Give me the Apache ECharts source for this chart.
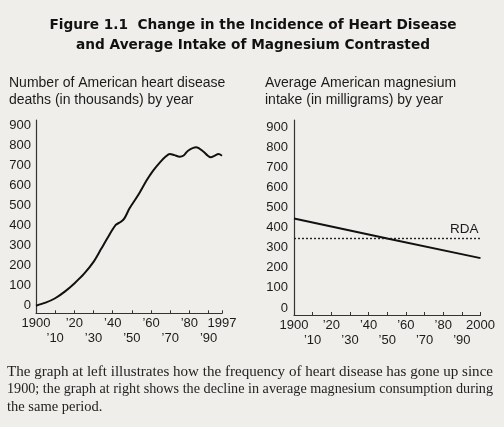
<!DOCTYPE html>
<html><head><meta charset="utf-8">
<script src="https://cdn.jsdelivr.net/npm/echarts@6/dist/echarts.min.js"></script>
<style>html,body{margin:0;padding:0;background:#efeeea}#c{width:504px;height:427px}</style>
</head><body><div id="c"></div>
<script>
// Left chart: heart disease deaths (thousands)
const deathYears  = [1900,1905,1910,1915,1920,1925,1930,1934,1937.2,1941.6,1944.3,1946.1,1948.8,1953.3,1957.8,1961,1965,1967.5,1969.8,1972.2,1974.9,1977,1979.3,1983.5,1987.4,1989.5,1991.2,1993,1995.2,1997];
const deathValues = [0,15,37,70,111,158,218,283,336,402,418,435,485,551,626,672,718,742,756,750,742,748,772,789,767,748,739,746,755,747];
// Right chart: magnesium intake (mg)
const intakeYears  = [1900,1950,2000];
const intakeValues = [445,346,248];
const rdaValue = 345;
// Tick labels (upper row / lower row)
const leftTickYears   = [1900,1910,1920,1930,1940,1950,1960,1970,1980,1990,1997];
const leftUpperYears  = [1900,1920,1940,1960,1980,1997];
const leftLowerYears  = [1910,1930,1950,1970,1990];
const rightTickYears  = [1900,1910,1920,1930,1940,1950,1960,1970,1980,1990,2000];
const rightUpperYears = [1900,1920,1940,1960,1980,2000];
const rightLowerYears = [1910,1930,1950,1970,1990];
const yTickValues = [0,100,200,300,400,500,600,700,800,900];
const captionLines = [
  'The graph at left illustrates how the frequency of heart disease has gone up since',
  '1900; the graph at right shows the decline in average magnesium consumption during',
  'the same period.'
];

const FONT = '"Liberation Sans", Arial, sans-serif';
const SERIF = '"Liberation Serif", "DejaVu Serif", serif';
const INK = '#1b1b1b';

function yearLabel(v){
  if (v===1900 || v===1997 || v===2000) return String(v);
  return '\u2019' + String(v).slice(2);
}
function xAxisMain(idx, max, ticks, labels){
  return {
    type:'value', gridIndex:idx, min:1900, max:max, position:'bottom',
    axisLine:{show:true, onZero:false, lineStyle:{color:'#333', width:1.2}},
    axisTick:{show:true, inside:true, length:3, customValues:ticks, lineStyle:{color:'#333'}},
    axisLabel:{customValues:labels, formatter:yearLabel, margin:4,
      showMinLabel:true, showMaxLabel:true,
      fontFamily:FONT, fontSize:13, color:INK},
    splitLine:{show:false}
  };
}
function xAxisLower(idx, max, labels){
  return {
    type:'value', gridIndex:idx, min:1900, max:max, position:'bottom', offset:15,
    axisLine:{show:false, onZero:false},
    axisTick:{show:false},
    axisLabel:{customValues:labels, formatter:yearLabel, margin:4,
      fontFamily:FONT, fontSize:13, color:INK},
    splitLine:{show:false}
  };
}
function yAxis(idx, min, max, margin){
  return {
    type:'value', gridIndex:idx, min:min, max:max,
    axisLine:{show:true, lineStyle:{color:'#333', width:1.2}},
    axisTick:{show:false},
    axisLabel:{customValues:yTickValues, margin:margin, fontFamily:FONT, fontSize:13, color:INK},
    splitLine:{show:false}
  };
}

// caption lines justified to the text block width (layout only)
const capFont = '14.5px ' + SERIF;
const measure = document.createElement('canvas').getContext('2d');
measure.font = capFont;
const capWidth = 486;
const capY = [372, 389.5, 407];
const captionGraphics = captionLines.map((t,i)=>{
  const w = measure.measureText(t).width;
  const sx = i < 2 ? capWidth / w : 1;
  return {type:'text', x:7, y:capY[i], scaleX:sx,
    style:{text:t, font:capFont, fill:'#222', verticalAlign:'middle'}};
});

const chart = echarts.init(document.getElementById('c'), null, {renderer:'canvas'});
chart.setOption({
  backgroundColor:'#efeeea',
  animation:false,
  title:[
    {text:'Number of American heart disease\ndeaths (in thousands) by year', left:9, top:75, padding:0,
     textStyle:{fontFamily:FONT, fontSize:14, fontWeight:'normal', lineHeight:16.6, color:INK}},
    {text:'Average American magnesium\nintake (in milligrams) by year', left:265, top:75, padding:0,
     textStyle:{fontFamily:FONT, fontSize:14, fontWeight:'normal', lineHeight:16.6, color:INK}}
  ],
  grid:[
    {left:36, top:120, width:186, height:193.3},
    {left:294, top:120, width:186.5, height:195}
  ],
  xAxis:[
    xAxisMain(0,1997,leftTickYears,leftUpperYears),
    xAxisMain(1,2000,rightTickYears,rightUpperYears),
    xAxisLower(0,1997,leftLowerYears),
    xAxisLower(1,2000,rightLowerYears)
  ],
  yAxis:[yAxis(0,-38,925,5), yAxis(1,-35,935,6)],
  series:[
    {type:'line', xAxisIndex:0, yAxisIndex:0, smooth:0.3, showSymbol:false,
     data:deathYears.map((y,i)=>[y,deathValues[i]]),
     lineStyle:{color:'#111', width:2}},
    {type:'line', xAxisIndex:1, yAxisIndex:1, showSymbol:false,
     data:intakeYears.map((y,i)=>[y,intakeValues[i]]),
     lineStyle:{color:'#111', width:2},
     markLine:{symbol:'none', silent:true,
       lineStyle:{type:[2,2], color:'#222', width:1.4},
       label:{show:true, position:'insideEndTop', formatter:'RDA', distance:2,
         fontFamily:FONT, fontSize:13.5, color:INK},
       data:[{yAxis:rdaValue}]}}
  ],
  graphic:[
    {type:'text', x:253, y:25, style:{text:'Figure 1.1  Change in the Incidence of Heart Disease',
      font:'bold 13.7px "DejaVu Sans", sans-serif', fill:'#111', align:'center', verticalAlign:'middle'}},
    {type:'text', x:253, y:45, style:{text:'and Average Intake of Magnesium Contrasted',
      font:'bold 13.7px "DejaVu Sans", sans-serif', fill:'#111', align:'center', verticalAlign:'middle'}}
  ].concat(captionGraphics)
});
</script></body></html>
